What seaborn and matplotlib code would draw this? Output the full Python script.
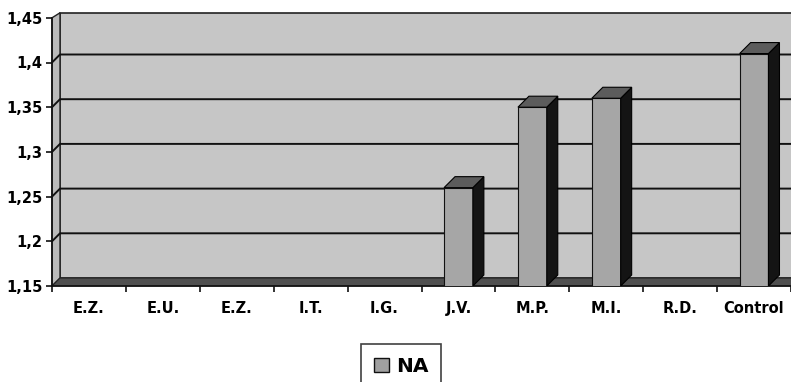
import numpy as np
import pandas as pd
import matplotlib
matplotlib.use("Agg")
import matplotlib.pyplot as plt
import seaborn as sns
from matplotlib.patches import Polygon, Patch

# ---- data ----
categories = ["E.Z.", "E.U.", "E.Z.", "I.T.", "I.G.", "J.V.", "M.P.", "M.I.", "R.D.", "Control"]
na_values = [1.15, 1.15, 1.15, 1.15, 1.15, 1.26, 1.35, 1.36, 1.15, 1.41]
series_name = "NA"
y_ticks = [1.15, 1.20, 1.25, 1.30, 1.35, 1.40, 1.45]
y_tick_labels = ["1,15", "1,2", "1,25", "1,3", "1,35", "1,4", "1,45"]

df = pd.DataFrame({"pos": list(range(len(categories))), "value": na_values})

sns.set_style("white")
plt.rcParams["font.family"] = ["DejaVu Sans"]
plt.rcParams["font.weight"] = "bold"
plt.rcParams["text.color"] = "black"
plt.rcParams["xtick.color"] = "black"
plt.rcParams["ytick.color"] = "black"
plt.rcParams["xtick.labelcolor"] = "black"
plt.rcParams["ytick.labelcolor"] = "black"

W, H = 791, 382
fig = plt.figure(figsize=(W / 100, H / 100), dpi=100)
fig.patch.set_facecolor("white")
ax = fig.add_axes([52 / W, 96 / H, 739 / W, 268.2 / H])
ax.set_facecolor("none")

ymin, ymax = 1.15, 1.45
xmin, xmax = -0.5, len(categories) - 0.5

sns.barplot(data=df, x="pos", y="value", ax=ax, color="#a6a6a6", width=0.39,
            saturation=1, edgecolor="#111111", linewidth=0.8, zorder=3)
ax.set_ylim(ymin, ymax)
ax.set_xlim(xmin, xmax)

# pixel -> data conversions
px_x = 739 / (xmax - xmin)
px_y = 268.2 / (ymax - ymin)
wdx, wdy = 8 / px_x, 8 / px_y          # wall depth
bdx, bdy = 11 / px_x, 11 / px_y        # bar depth
wtop = ymax + 5 / px_y

# back wall and left wall
back = Polygon([(xmin + wdx, ymin + wdy), (xmax + wdx, ymin + wdy),
                (xmax + wdx, wtop), (xmin + wdx, wtop)],
               closed=True, facecolor="#c6c6c6", edgecolor="#222222",
               linewidth=1.2, zorder=0, clip_on=False)
ax.add_patch(back)
side = Polygon([(xmin, ymin), (xmin, ymax), (xmin + wdx, wtop), (xmin + wdx, ymin + wdy)],
               closed=True, facecolor="#bababa", edgecolor="#222222",
               linewidth=1.0, zorder=0.5, clip_on=False)
ax.add_patch(side)

# gridlines on the walls
for yv in y_ticks[1:-1]:
    ax.plot([xmin, xmin + wdx, xmax + wdx], [yv, yv + wdy, yv + wdy],
            color="#111111", linewidth=1.4, zorder=1, clip_on=False)

# floor
floor = Polygon([(xmin, ymin), (xmax, ymin), (xmax + wdx, ymin + wdy), (xmin + wdx, ymin + wdy)],
                closed=True, facecolor="#4f4f4f", edgecolor="#222222",
                linewidth=0.8, zorder=1.5, clip_on=False)
ax.add_patch(floor)

# 3D sides and tops of bars
for p in list(ax.patches):
    if not isinstance(p, matplotlib.patches.Rectangle):
        continue
    x0, w = p.get_x(), p.get_width()
    top = p.get_y() + p.get_height()
    if top <= ymin + 1e-6:
        continue
    sidep = Polygon([(x0 + w, ymin), (x0 + w, top), (x0 + w + bdx, top + bdy),
                     (x0 + w + bdx, ymin + bdy)], closed=True,
                    facecolor="#141414", edgecolor="#000000", linewidth=0.8, zorder=3)
    topp = Polygon([(x0, top), (x0 + w, top), (x0 + w + bdx, top + bdy), (x0 + bdx, top + bdy)],
                   closed=True, facecolor="#5c5c5c", edgecolor="#000000", linewidth=0.8, zorder=3)
    ax.add_patch(sidep)
    ax.add_patch(topp)

# axes styling
for s in ["top", "right"]:
    ax.spines[s].set_visible(False)
ax.spines["left"].set_color("#111111")
ax.spines["left"].set_linewidth(1.2)
ax.spines["bottom"].set_color("#111111")
ax.spines["bottom"].set_linewidth(1.2)
ax.spines["left"].set_zorder(4)

ax.set_yticks(y_ticks)
ax.set_yticklabels(y_tick_labels)
ax.set_xticks(range(len(categories)))
ax.set_xticklabels(categories)
ax.set_xticks(np.arange(xmin, xmax + 0.01, 1.0), minor=True)
ax.tick_params(axis="y", direction="out", length=4, width=1.2, color="#111111",
               pad=3, labelsize=10.5, left=True, labelcolor="black")
ax.tick_params(axis="x", which="major", length=0, pad=11, labelsize=10.5, labelcolor="black")
ax.tick_params(axis="x", which="minor", direction="out", length=4, width=1.2,
               color="#111111", bottom=True)
for lbl in ax.get_xticklabels() + ax.get_yticklabels():
    lbl.set_fontweight("bold")
    lbl.set_color("black")
ax.set_xlabel("")
ax.set_ylabel("")
ax.grid(False)

# legend
handle = Patch(facecolor="#a0a0a0", edgecolor="#111111", linewidth=1.0, label=series_name)
leg = fig.legend(handles=[handle], loc="upper center", bbox_to_anchor=(401 / W, 1 - 344 / H),
                 frameon=True, fancybox=False, edgecolor="#111111",
                 handlelength=0.75, handleheight=0.75, handletextpad=0.35,
                 borderpad=0.65, borderaxespad=0.0, prop={"weight": "bold", "size": 14.5})
leg.get_frame().set_linewidth(1.2)
for t in leg.get_texts():
    t.set_color("black")

fig.savefig("out.png", dpi=100, facecolor="white")
